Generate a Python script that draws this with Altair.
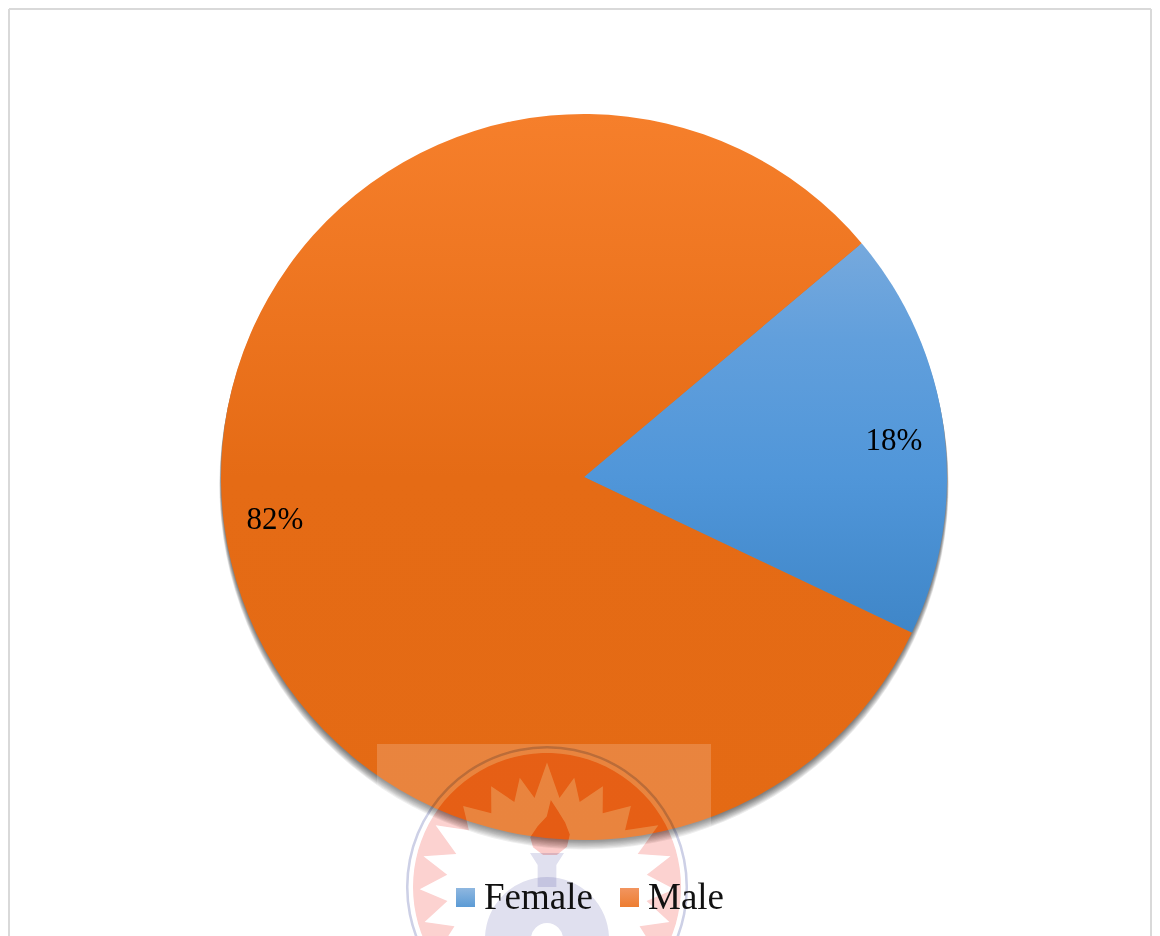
import math
import altair as alt
import pandas as pd

categories = ["Female", "Male"]
shares = [18.2, 81.8]
labels = ["18%", "82%"]

W, H = 1144, 928
CX, CY, R = 576, 469, 363
START = math.radians(49.9)
SERIF = "Liberation Serif"
LX, LY = 539, 879  # logo centre

starts = [0, shares[0]]
ends = [shares[0], 100]
pie = pd.DataFrame({"cat": categories, "s": starts, "e": ends})
theta_scale = alt.Scale(domain=[0, 100], range=[START, START + 2 * math.pi])


def grad(stops):
    return alt.LinearGradient(
        gradient="linear", x1=0, x2=0, y1=0, y2=1,
        stops=[alt.GradientStop(offset=o, color=c) for o, c in stops],
    )


blue = grad([(0, "#76a9dd"), (0.25, "#619fdc"), (0.6, "#5096d9"), (1, "#3f86c8")])
orange = grad([(0, "#f67f2b"), (0.5, "#e56b15"), (1, "#e46a14")])
blue_key = grad([(0, "#8fb7e0"), (1, "#5b9bd5")])
orange_key = grad([(0, "#f29560"), (1, "#ed7d31")])

dummy = pd.DataFrame({"a": [0]})


def slice_layer(cat, fill):
    return (
        alt.Chart(pie[pie.cat == cat])
        .mark_arc(radius=R, fill=fill, stroke=None)
        .encode(
            theta=alt.Theta("s:Q", scale=theta_scale, stack=None),
            theta2="e:Q",
            x=alt.value(CX),
            y=alt.value(CY),
        )
    )


def disc(radius, dy, color, op):
    return (
        alt.Chart(dummy)
        .mark_arc(radius=radius, theta=0, theta2=2 * math.pi, fill=color, opacity=op)
        .encode(x=alt.value(CX), y=alt.value(CY + dy))
    )


shadows = [disc(R + d * 0.2, d, "#000000", 0.08) for d in (8, 7, 6, 5, 4, 3, 2, 1)]

# frame
frame = [
    alt.Chart(dummy).mark_rule(color="#d9d9d9", strokeWidth=2).encode(
        x=alt.value(1), x2=alt.value(W - 1), y=alt.value(1)),
    alt.Chart(dummy).mark_rule(color="#d9d9d9", strokeWidth=2).encode(
        x=alt.value(1), y=alt.value(1), y2=alt.value(H)),
    alt.Chart(dummy).mark_rule(color="#d9d9d9", strokeWidth=2).encode(
        x=alt.value(W - 1), y=alt.value(1), y2=alt.value(H)),
]

# watermark panel
panel = alt.Chart(dummy).mark_rect(fill="#ffffff", opacity=0.18).encode(
    x=alt.value(369), x2=alt.value(703), y=alt.value(736), y2=alt.value(842))

# watermark emblem: disc with a jagged star cut out of it
half_deg = [0, 8, 14, 21, 29, 37, 46, 54, 61, 70, 76, 83, 91, 98, 106, 113, 121, 128, 136, 143, 151, 158, 166, 173]
half_rad = [.93, .67, .84, .68, .86, .69, .87, .72, .95, .72, .95, .75, .95, .75, .95, .75, .95, .75, .95, .75, .95, .75, .95, .75]
star_deg = half_deg + [180] + [360 - a for a in half_deg[:0:-1]]
star_rad = half_rad + [.95] + half_rad[:0:-1]
star_pts = [(r * math.sin(math.radians(a)), -r * math.cos(math.radians(a))) for a, r in zip(star_deg, star_rad)]
n = 90
circle = [(math.cos(2 * math.pi * i / n), math.sin(2 * math.pi * i / n)) for i in range(n)]


def path(pts):
    return "M" + "L".join(f"{x:.4f},{y:.4f}" for x, y in pts) + "Z"


emblem_path = path(circle) + path(star_pts[::-1])
EM = 134


def symbol(shape, size_r, x, y, color, blend="multiply"):
    return alt.Chart(dummy).mark_point(
        shape=shape, filled=True, fill=color, size=(2 * size_r) ** 2, opacity=1,
        stroke=None, blend=blend, clip=False,
    ).encode(x=alt.value(x), y=alt.value(y))


flame_pts = [(0.03, -1), (0.28, -0.62), (0.55, -0.18), (0.72, 0.25), (0.62, 0.7), (0.25, 1), (-0.25, 1),
             (-0.62, 0.72), (-0.72, 0.35), (-0.45, -0.05), (-0.12, -0.4)]
neck_pts = [(-1, -1), (1, -1), (0.55, -0.3), (0.55, 1), (-0.55, 1), (-0.55, -0.3)]

ring = alt.Chart(dummy).mark_arc(
    radius=141, radius2=138.5, theta=0, theta2=2 * math.pi, fill="#cdd0e6", blend="multiply"
).encode(x=alt.value(LX), y=alt.value(LY))

logo = [
    ring,
    symbol(emblem_path, EM, LX, LY, "#fcd6d6"),
    # colour-burn leaves white untouched, so it deepens the emblem only over the pie
    symbol(emblem_path, EM, LX, LY, "#ffe6dd", "color-burn"),
    symbol(path(flame_pts), 27.5, 542, 819.5, "#fbd0d0"),
    symbol(path(flame_pts), 27.5, 542, 819.5, "#ffe6dd", "color-burn"),
    symbol(path(neck_pts), 17, LX, 862, "#e0e0ef"),
    alt.Chart(dummy).mark_arc(radius=62, radius2=16, theta=0, theta2=2 * math.pi, fill="#e0e0ef", blend="multiply")
    .encode(x=alt.value(LX), y=alt.value(931)),
]

# value labels
label_df = pd.DataFrame({"t": labels, "px": [886, 267], "py": [433, 512]})
value_text = alt.Chart(label_df).mark_text(
    font=SERIF, fontSize=31, color="#000000", baseline="middle", align="center"
).encode(text="t:N", x=alt.X("px:Q", scale=None), y=alt.Y("py:Q", scale=None))

# legend
legend_df = pd.DataFrame({"t": categories, "tx": [476, 640]})
key_layers = [
    alt.Chart(legend_df[legend_df.t == c]).mark_rect(fill=f).encode(
        x=alt.value(kx), x2=alt.value(kx + 19), y=alt.value(880), y2=alt.value(899))
    for c, f, kx in zip(categories, [blue_key, orange_key], [448, 612])
]
legend_text = alt.Chart(legend_df).mark_text(
    font=SERIF, fontSize=37, color="#111111", align="left", baseline="alphabetic"
).encode(text="t:N", x=alt.X("tx:Q", scale=None), y=alt.value(901))

layers = (
    frame + shadows
    + [slice_layer("Female", blue), slice_layer("Male", orange)]
    + [panel] + logo + [value_text] + key_layers + [legend_text]
)

chart = (
    alt.layer(*layers)
    .properties(width=W, height=H, padding=0, background="#ffffff",
                autosize=alt.AutoSizeParams(type="none"))
    .configure_view(stroke=None)
)
chart.save("out.html", embed_options={"renderer": "svg", "actions": False})
